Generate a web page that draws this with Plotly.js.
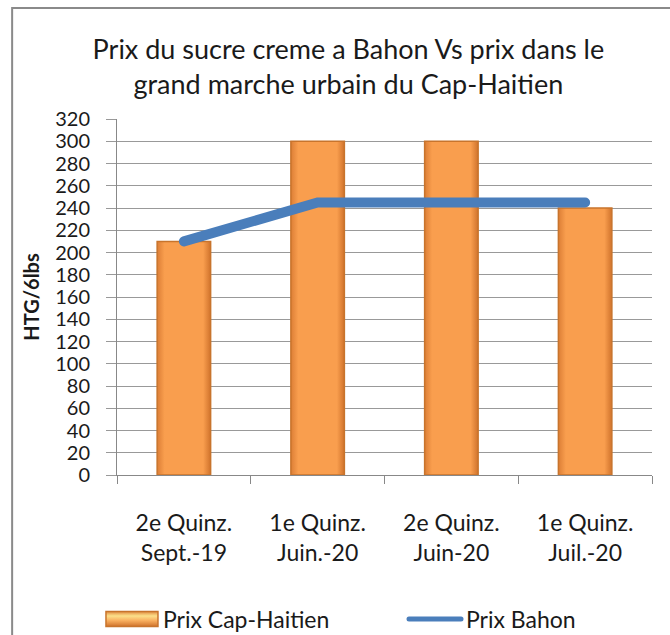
<!DOCTYPE html>
<html><head><meta charset="utf-8">
<script src="https://cdn.plot.ly/plotly-3.0.1.min.js"></script>
<style>body{margin:0;background:#fff}#c{width:670px;height:635px}</style>
</head><body><div id="c"></div>
<script>
const categories = ["2e Quinz.<br>Sept.-19", "1e Quinz.<br>Juin.-20", "2e Quinz.<br>Juin-20", "1e Quinz.<br>Juil.-20"];
const prixCapHaitien = [210, 300, 300, 240];
const prixBahon = [210, 245, 245, 245];
const yTicks = [0,20,40,60,80,100,120,140,160,180,200,220,240,260,280,300,320];

const F = "Lato, 'Open Sans', sans-serif";
const data = [
  {type:'bar', name:'Prix Cap-Haitien', x:categories, y:prixCapHaitien, legend:'legend',
   marker:{color:'#F8994A', line:{color:'#C8742C', width:1.5}}},
  {type:'scatter', mode:'lines', name:'Prix Bahon', x:categories, y:prixBahon, legend:'legend2',
   line:{color:'#4A7EBB', width:10}}
];
const layout = {
  width:670, height:635,
  margin:{l:117, r:18, t:119, b:160},
  paper_bgcolor:'#fff', plot_bgcolor:'#fff',
  font:{family:F, color:'#1a1a1a', size:20},
  bargap:0.6,
  showlegend:true,
  title:{text:'Prix du sucre creme a Bahon Vs prix dans le<br>grand marche urbain du Cap-Haitien',
    font:{family:F, size:27, color:'#1a1a1a'}, x:0.52, xanchor:'center', y:0.9075, yanchor:'top'},
  xaxis:{type:'category', showgrid:false, showline:true, linecolor:'#888', linewidth:1,
    ticks:'outside', ticklen:8, tickcolor:'#888', tickson:'boundaries', automargin:false,
    tickfont:{family:F, size:23}, range:[-0.5,3.5], ticklabelstandoff:27},
  yaxis:{range:[0,320], tickvals:yTicks, ticktext:yTicks.map(String), showgrid:true, gridcolor:'#999', gridwidth:1,
    showline:true, linecolor:'#888', ticks:'outside', ticklen:10, tickcolor:'#999', automargin:false,
    tickfont:{family:F, size:20}, zeroline:false, ticklabelstandoff:12,
    title:{text:'<b>HTG/6lbs</b>', font:{family:F, size:20}, standoff:10}},
  legend:{orientation:'h', xref:'container', yref:'container', x:0.1507, xanchor:'left', y:0.0252, yanchor:'middle',
    font:{family:F, size:23}, itemwidth:52},
  legend2:{orientation:'h', xref:'container', yref:'container', x:0.603, xanchor:'left', y:0.0252, yanchor:'middle',
    font:{family:F, size:23}, itemwidth:52},
  shapes:[{type:'path', xref:'paper', yref:'paper',
    path:'M -0.196 -0.6 L -0.196 1.312 L 1.2 1.312', line:{color:'#8a8a8a', width:2}}]
};
Plotly.newPlot('c', data, layout, {displayModeBar:false, staticPlot:true}).then(function(gd){
  const svg = gd.querySelector('svg.main-svg');
  const ns = 'http://www.w3.org/2000/svg';
  let defs = svg.querySelector('defs');
  if (!defs) { defs = document.createElementNS(ns,'defs'); svg.insertBefore(defs, svg.firstChild); }
  function grad(id, x2, y2, stops){
    const g = document.createElementNS(ns,'linearGradient');
    g.setAttribute('id',id); g.setAttribute('x1','0'); g.setAttribute('y1','0'); g.setAttribute('x2',x2); g.setAttribute('y2',y2);
    stops.forEach(function(s){
      const st = document.createElementNS(ns,'stop'); st.setAttribute('offset',s[0]); st.setAttribute('stop-color',s[1]); g.appendChild(st);
    });
    defs.appendChild(g);
  }
  grad('barGrad','1','0',[['0','#DC7E36'],['0.14','#F99E4E'],['0.86','#F99E4E'],['1','#D0732C']]);
  grad('legGrad','0','1',[['0','#E08A3E'],['0.3','#FCE08A'],['0.6','#F9B060'],['1','#D0732C']]);
  gd.querySelectorAll('.barlayer .point path').forEach(function(p){ p.style.fill = 'url(#barGrad)'; });
  gd.querySelectorAll('.scatterlayer .js-line').forEach(function(p){ p.style.strokeLinecap = 'round'; });
  gd.querySelectorAll('.infolayer .traces').forEach(function(t){
    t.querySelectorAll('.legendpoints path').forEach(function(p){
      p.setAttribute('d','M-26,-7.5h52v15h-52z'); p.style.fill = 'url(#legGrad)';
    });
    t.querySelectorAll('.legendlines path').forEach(function(p){ p.style.strokeWidth = '5px'; p.style.strokeLinecap='round'; });
  });
});
</script></body></html>
